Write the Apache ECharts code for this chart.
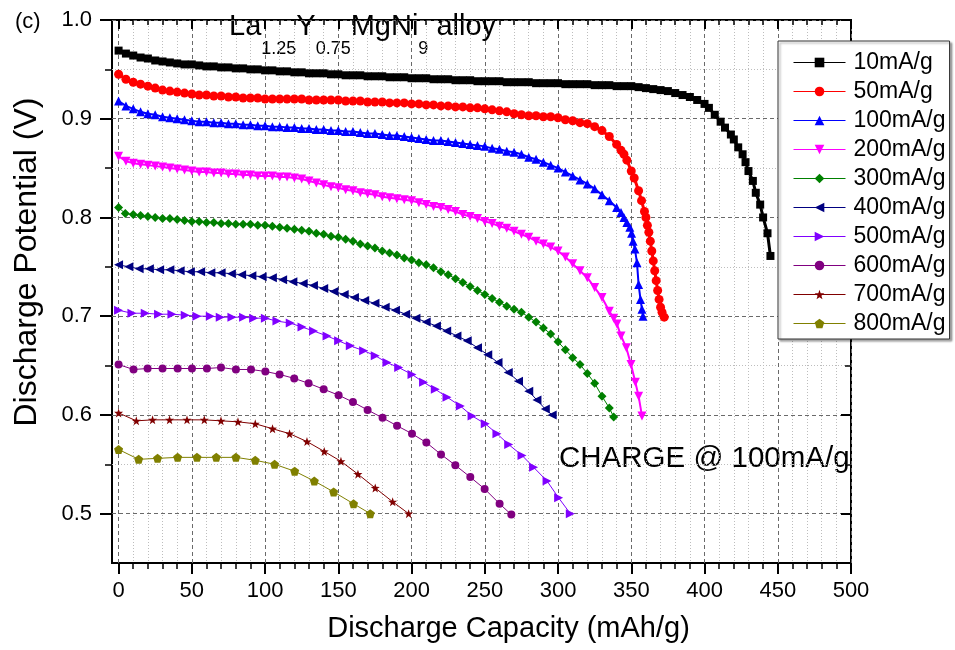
<!DOCTYPE html>
<html><head><meta charset="utf-8">
<script src="https://cdn.jsdelivr.net/npm/echarts@6/dist/echarts.min.js"></script>
<style>html,body{margin:0;padding:0;background:#fff}#c{width:955px;height:650px}</style>
</head><body><div id="c"></div>
<script>
const FONT = "'Liberation Sans', Arial, Helvetica, sans-serif";
const seriesNames = ['10mA/g','50mA/g','100mA/g','200mA/g','300mA/g','400mA/g','500mA/g','600mA/g','700mA/g','800mA/g'];

const d10 = [[0,0.969],[5,0.966],[10,0.964],[15,0.962],[20,0.961],[25,0.959],[30,0.958],[35,0.957],[40,0.956],[45,0.955],[50,0.955],[55,0.954],[60,0.953],[65,0.953],[70,0.952],[75,0.952],[80,0.951],[85,0.951],[90,0.950],[95,0.950],[100,0.949],[105,0.949],[110,0.948],[115,0.948],[120,0.947],[125,0.947],[130,0.946],[135,0.946],[140,0.946],[145,0.945],[150,0.945],[155,0.944],[160,0.944],[165,0.944],[170,0.943],[175,0.943],[180,0.943],[185,0.942],[190,0.942],[195,0.942],[200,0.941],[205,0.941],[210,0.941],[215,0.940],[220,0.940],[225,0.940],[230,0.939],[235,0.939],[240,0.939],[245,0.938],[250,0.938],[255,0.938],[260,0.938],[265,0.937],[270,0.937],[275,0.937],[280,0.937],[285,0.936],[290,0.936],[295,0.936],[300,0.936],[305,0.935],[310,0.935],[315,0.935],[320,0.935],[325,0.934],[330,0.934],[335,0.934],[340,0.933],[345,0.933],[350,0.933],[355,0.932],[360,0.931],[365,0.930],[370,0.929],[375,0.928],[380,0.926],[385,0.924],[390,0.922],[395,0.919],[400,0.915],[403,0.911],[407,0.904],[411,0.897],[414,0.891],[418,0.884],[420,0.879],[423,0.871],[426,0.864],[428,0.856],[430,0.847],[433,0.837],[435,0.825],[438,0.813],[440,0.800],[443,0.784],[445,0.761]];

const d50 = [[0,0.945],[5,0.940],[10,0.937],[15,0.935],[20,0.933],[25,0.931],[30,0.929],[35,0.928],[40,0.927],[45,0.926],[50,0.925],[55,0.924],[60,0.924],[65,0.923],[70,0.923],[75,0.922],[80,0.922],[85,0.921],[90,0.921],[95,0.921],[100,0.920],[105,0.920],[110,0.920],[115,0.920],[120,0.920],[125,0.920],[130,0.919],[135,0.919],[140,0.919],[145,0.919],[150,0.919],[155,0.918],[160,0.918],[165,0.918],[170,0.917],[175,0.917],[180,0.917],[185,0.916],[190,0.916],[195,0.916],[200,0.915],[205,0.915],[210,0.914],[215,0.914],[220,0.913],[225,0.913],[230,0.912],[235,0.912],[240,0.911],[245,0.911],[250,0.910],[255,0.909],[260,0.908],[265,0.907],[270,0.905],[275,0.904],[280,0.903],[285,0.903],[290,0.902],[295,0.902],[300,0.901],[305,0.899],[310,0.898],[315,0.896],[320,0.895],[325,0.892],[330,0.888],[335,0.882],[340,0.874],[343,0.868],[345,0.864],[347,0.858],[350,0.847],[352,0.840],[355,0.827],[357,0.817],[359,0.806],[360,0.800],[361,0.792],[362,0.785],[363,0.776],[364,0.766],[365,0.756],[366,0.746],[367,0.736],[368,0.726],[369,0.717],[370,0.709],[371,0.704],[372.5,0.699]];

const d100 = [[0,0.918],[5,0.913],[10,0.910],[15,0.907],[20,0.905],[25,0.904],[30,0.902],[35,0.901],[40,0.900],[45,0.899],[50,0.898],[55,0.897],[60,0.897],[65,0.896],[70,0.896],[75,0.895],[80,0.895],[85,0.894],[90,0.894],[95,0.893],[100,0.893],[105,0.892],[110,0.892],[115,0.891],[120,0.891],[125,0.890],[130,0.890],[135,0.889],[140,0.889],[145,0.888],[150,0.888],[155,0.887],[160,0.887],[165,0.886],[170,0.885],[175,0.885],[180,0.884],[185,0.883],[190,0.883],[195,0.882],[200,0.881],[205,0.880],[210,0.879],[215,0.878],[220,0.878],[225,0.877],[230,0.876],[235,0.875],[240,0.874],[245,0.873],[250,0.872],[255,0.870],[260,0.869],[265,0.867],[270,0.866],[275,0.864],[280,0.861],[285,0.859],[290,0.856],[295,0.853],[300,0.850],[305,0.846],[310,0.842],[315,0.838],[320,0.834],[325,0.829],[330,0.823],[335,0.817],[340,0.810],[343,0.805],[345,0.800],[347,0.795],[349,0.790],[350.2,0.784],[351.2,0.776],[352.5,0.768],[353.9,0.754],[355,0.732],[356.3,0.717],[357.3,0.707],[358,0.700]];

const d200 = [[0,0.862],[5,0.857],[10,0.855],[15,0.854],[20,0.853],[25,0.852],[30,0.851],[35,0.850],[40,0.849],[45,0.848],[50,0.847],[55,0.846],[60,0.846],[65,0.845],[70,0.845],[75,0.844],[80,0.844],[85,0.843],[90,0.843],[95,0.842],[100,0.842],[105,0.842],[110,0.841],[115,0.841],[120,0.840],[125,0.839],[130,0.837],[135,0.835],[140,0.833],[145,0.831],[150,0.830],[155,0.828],[160,0.827],[165,0.825],[170,0.824],[175,0.823],[180,0.821],[185,0.820],[190,0.819],[195,0.818],[200,0.817],[205,0.815],[210,0.813],[215,0.811],[220,0.810],[225,0.808],[230,0.806],[235,0.803],[240,0.801],[245,0.799],[250,0.796],[255,0.794],[260,0.791],[265,0.789],[270,0.786],[275,0.783],[280,0.780],[285,0.776],[290,0.773],[295,0.770],[300,0.766],[305,0.760],[310,0.753],[315,0.746],[320,0.739],[325,0.729],[330,0.719],[335,0.705],[338,0.698],[340.2,0.692],[343,0.680],[346.6,0.668],[349.8,0.651],[352.8,0.633],[355,0.619],[357.3,0.599]];

const d300 = [[0,0.810],[4.6,0.804],[10,0.803],[15,0.802],[20,0.801],[25,0.800],[30,0.799],[35,0.799],[40,0.798],[45,0.797],[50,0.796],[55,0.796],[60,0.795],[65,0.795],[70,0.794],[75,0.794],[80,0.793],[85,0.793],[90,0.793],[95,0.792],[100,0.792],[105,0.791],[110,0.790],[115,0.789],[120,0.788],[125,0.787],[130,0.786],[135,0.784],[140,0.783],[145,0.781],[150,0.780],[155,0.778],[160,0.776],[165,0.773],[170,0.771],[175,0.769],[180,0.766],[185,0.764],[190,0.762],[195,0.759],[200,0.757],[205,0.754],[210,0.752],[215,0.749],[220,0.745],[225,0.742],[230,0.738],[235,0.734],[240,0.730],[245,0.726],[250,0.722],[255,0.718],[260,0.714],[265,0.710],[270,0.707],[275,0.704],[280,0.699],[285,0.694],[290,0.688],[295,0.682],[300,0.674],[305,0.666],[310,0.658],[315,0.651],[320,0.642],[325,0.632],[330,0.619],[335,0.607],[338,0.598]];

const d400 = [[0,0.752],[7,0.750],[14,0.748],[21,0.748],[28,0.747],[35,0.747],[42,0.746],[49,0.745],[56,0.745],[63,0.744],[70,0.744],[77,0.743],[84,0.742],[91,0.741],[98,0.740],[105,0.739],[112,0.737],[119,0.735],[126,0.733],[133,0.731],[140,0.728],[147,0.725],[154,0.722],[161,0.719],[168,0.716],[175,0.713],[182,0.709],[189,0.706],[196,0.702],[203,0.698],[210,0.694],[217,0.690],[224,0.685],[231,0.680],[238,0.675],[245,0.668],[252,0.661],[259,0.653],[266,0.643],[273,0.634],[280,0.624],[285.6,0.615],[291.3,0.606],[296,0.600]];

const d500 = [[0,0.706],[9.1,0.703],[18.2,0.703],[27.3,0.702],[36.4,0.702],[45.5,0.701],[53.5,0.700],[62.6,0.700],[69.4,0.699],[77.4,0.699],[85.3,0.699],[92.2,0.698],[100.2,0.698],[108.1,0.695],[117.2,0.693],[125.2,0.689],[133.1,0.685],[142.3,0.680],[150.2,0.675],[158.2,0.670],[167.3,0.665],[175.2,0.660],[183.2,0.653],[191.2,0.648],[200.3,0.641],[208.2,0.633],[216.2,0.626],[224.2,0.618],[233.3,0.609],[241.3,0.599],[250.3,0.591],[258.3,0.581],[266.3,0.570],[275.4,0.559],[283.3,0.547],[292.5,0.533],[300.4,0.516],[308.4,0.500]];

const d600 = [[0,0.651],[10.2,0.646],[19.8,0.647],[30.0,0.647],[40.3,0.647],[50.1,0.647],[60.3,0.647],[69.9,0.648],[80.1,0.646],[90.4,0.646],[100.2,0.644],[109.9,0.641],[119.9,0.637],[129.7,0.632],[140.0,0.626],[150.2,0.620],[160.0,0.613],[170.0,0.605],[180.2,0.597],[190.1,0.589],[200.3,0.581],[210.1,0.572],[220.1,0.560],[229.9,0.549],[240.1,0.537],[249.9,0.525],[260.1,0.510],[268.1,0.499]];

const d700 = [[0,0.602],[12.1,0.594],[23.2,0.595],[34.8,0.595],[46.7,0.595],[58.5,0.595],[69.9,0.594],[81.5,0.593],[93.3,0.591],[105.1,0.586],[116.7,0.581],[128.6,0.573],[140.4,0.563],[151.8,0.553],[163.4,0.540],[175.2,0.526],[187.1,0.512],[198.0,0.500]];

const d800 = [[0,0.565],[13.7,0.555],[26.6,0.556],[40.3,0.557],[53.5,0.557],[66.7,0.557],[80.1,0.557],[93.3,0.554],[106.5,0.550],[120.2,0.543],[133.6,0.533],[146.8,0.522],[160.4,0.510],[171.8,0.500]];

const seriesData = [d10,d50,d100,d200,d300,d400,d500,d600,d700,d800];

const xTickMin = 0, xTickMax = 500, xTickStep = 50;
const yTickMin = 0.5, yTickMax = 1.0, yTickStep = 0.1;
const xFrameMin = -4.5, yFrameMin = 0.45;

const STAR = 'path://M0,-10L2.35,-3.24L9.51,-3.09L3.8,1.24L5.88,8.09L0,4L-5.88,8.09L-3.8,1.24L-9.51,-3.09L-2.35,-3.24Z';
const PENT = 'path://M0,-10L9.51,-3.09L5.88,8.09L-5.88,8.09L-9.51,-3.09Z';
const styles = [
  {color:'#000000', symbol:'rect', size:8, rotate:0, lw:3},
  {color:'#FF0000', symbol:'circle', size:9, rotate:0, lw:3},
  {color:'#0000FF', symbol:'triangle', size:9, rotate:0, lw:2},
  {color:'#FF00FF', symbol:'triangle', size:9, rotate:180, lw:2},
  {color:'#008000', symbol:'diamond', size:9, rotate:0, lw:1},
  {color:'#000080', symbol:'triangle', size:9, rotate:90, lw:1},
  {color:'#8000FF', symbol:'triangle', size:9, rotate:-90, lw:1},
  {color:'#800080', symbol:'circle', size:8, rotate:0, lw:1},
  {color:'#800000', symbol:STAR, size:9, rotate:0, lw:1},
  {color:'#808000', symbol:PENT, size:9, rotate:0, lw:1}
];

// layout
const GL = 112, GT = 20, GW = 739, GH = 543;
const pxPerX = GW / (xTickMax - xFrameMin);
const x0px = GL + (0 - xFrameMin) * pxPerX;
const pxPerY = GH / (yTickMax - yFrameMin);
const yHalfPx = (yTickMax - yTickMin) * pxPerY;

const chart = echarts.init(document.getElementById('c'), null, {renderer:'canvas'});

const dashed = {color:'#6a6a6a', width:1, type:[4,3]};
const dotted = {color:'#bdbdbd', width:1, type:[1,2]};

// measure helper for the subscript title
const cv = document.createElement('canvas').getContext('2d');
function tw(t, size){ cv.font = size + 'px ' + FONT; return cv.measureText(t).width; }
const titleTokens = [['La',0],['1.25',1],['Y',0],['0.75',1],['MgNi',0],['9',1],[' alloy',0]];
const titleGraphics = [];
let tx = 229;
titleTokens.forEach(([t, sub]) => {
  const size = sub ? 18 : 29;
  titleGraphics.push({type:'text', x:tx, y: sub ? 49 : 26.5,
    style:{text:t, fontSize:size, fontFamily:FONT, fill:'#000', align:'left', verticalAlign:'middle'}});
  tx += tw(t, size);
});

chart.setOption({
  animation:false,
  backgroundColor:'#fff',
  grid:[
    {left:GL, top:GT, width:GW, height:GH, show:true, borderColor:'#000', borderWidth:2, backgroundColor:'transparent'},
    {left:x0px, top:GT, width:GL+GW-x0px, height:GH, show:false},
    {left:GL, top:GT, width:GW, height:yHalfPx, show:false}
  ],
  xAxis:[
    {gridIndex:0, type:'value', min:xFrameMin, max:xTickMax, show:false},
    {gridIndex:1, type:'value', min:xTickMin, max:xTickMax, interval:xTickStep, position:'bottom',
      axisLine:{show:false},
      axisTick:{show:true, inside:false, length:11, lineStyle:{color:'#000', width:2}},
      minorTick:{show:true, splitNumber:5, length:6, lineStyle:{color:'#000', width:1.5}},
      axisLabel:{show:true, margin:17, fontSize:22, fontFamily:FONT, color:'#000'},
      splitLine:{show:true, lineStyle:dashed},
      minorSplitLine:{show:true, lineStyle:dotted}},
    {gridIndex:1, type:'value', min:xTickMin, max:xTickMax, interval:xTickStep, position:'top',
      axisLine:{show:false},
      axisTick:{show:true, inside:true, length:9, lineStyle:{color:'#000', width:2}},
      minorTick:{show:true, splitNumber:5, length:5, lineStyle:{color:'#000', width:1.5}},
      axisLabel:{show:false}, splitLine:{show:false}},
    {gridIndex:2, type:'value', min:0, max:1, show:false}
  ],
  yAxis:[
    {gridIndex:0, type:'value', min:yFrameMin, max:yTickMax, show:false},
    {gridIndex:1, type:'value', min:0, max:1, show:false},
    {gridIndex:2, type:'value', min:yTickMin, max:yTickMax, interval:yTickStep, position:'left',
      axisLine:{show:false},
      axisTick:{show:true, inside:false, length:12, lineStyle:{color:'#000', width:2}},
      minorTick:{show:true, splitNumber:2, length:7, lineStyle:{color:'#000', width:1.5}},
      axisLabel:{show:true, margin:20, fontSize:22, fontFamily:FONT, color:'#000', formatter:v=>v.toFixed(1)},
      splitLine:{show:true, lineStyle:dashed},
      minorSplitLine:{show:true, lineStyle:dotted}},
    {gridIndex:2, type:'value', min:yTickMin, max:yTickMax, interval:yTickStep, position:'right',
      axisLine:{show:false},
      axisTick:{show:true, inside:true, length:10, lineStyle:{color:'#000', width:2}},
      minorTick:{show:true, splitNumber:2, length:6, lineStyle:{color:'#000', width:1.5}},
      axisLabel:{show:false}, splitLine:{show:false}}
  ],
  legend:{
    orient:'vertical', left:778, top:41,
    itemWidth:52, itemHeight:12, itemGap:6,
    padding:[10,4,4,15],
    borderColor:'#333', borderWidth:1, backgroundColor:'#fff',
    shadowColor:'rgba(0,0,0,0.35)', shadowOffsetX:2, shadowOffsetY:2, shadowBlur:2,
    textStyle:{fontSize:23, lineHeight:23, fontFamily:FONT, color:'#000', padding:[0,0,0,3]},
    lineStyle:{width:1},
    data:seriesNames
  },
  graphic:[
    {type:'text', x:15, y:22, style:{text:'(c)', fontSize:22, fontFamily:FONT, fill:'#000', align:'left', verticalAlign:'middle'}},
    ...titleGraphics,
    {type:'text', x:559, y:459, style:{text:'CHARGE @ 100mA/g', fontSize:29.5, fontFamily:FONT, fill:'#000', align:'left', verticalAlign:'middle'}},
    {type:'text', x:508.5, y:629, style:{text:'Discharge Capacity (mAh/g)', fontSize:29, fontFamily:FONT, fill:'#000', align:'center', verticalAlign:'middle'}},
    {type:'text', x:27, y:262, rotation:Math.PI/2, style:{text:'Discharge Potential (V)', fontSize:32, fontFamily:FONT, fill:'#000', align:'center', verticalAlign:'middle'}}
  ],
  series: seriesData.map((d, i) => ({
    name: seriesNames[i], type:'line', xAxisIndex:0, yAxisIndex:0,
    data:d, symbol:styles[i].symbol, symbolSize:styles[i].size, symbolRotate:styles[i].rotate,
    showSymbol:true, showAllSymbol:true,
    lineStyle:{color:styles[i].color, width:styles[i].lw},
    itemStyle:{color:styles[i].color, borderWidth:0},
    emphasis:{disabled:true}, z: 10 - i
  }))
});
</script></body></html>
